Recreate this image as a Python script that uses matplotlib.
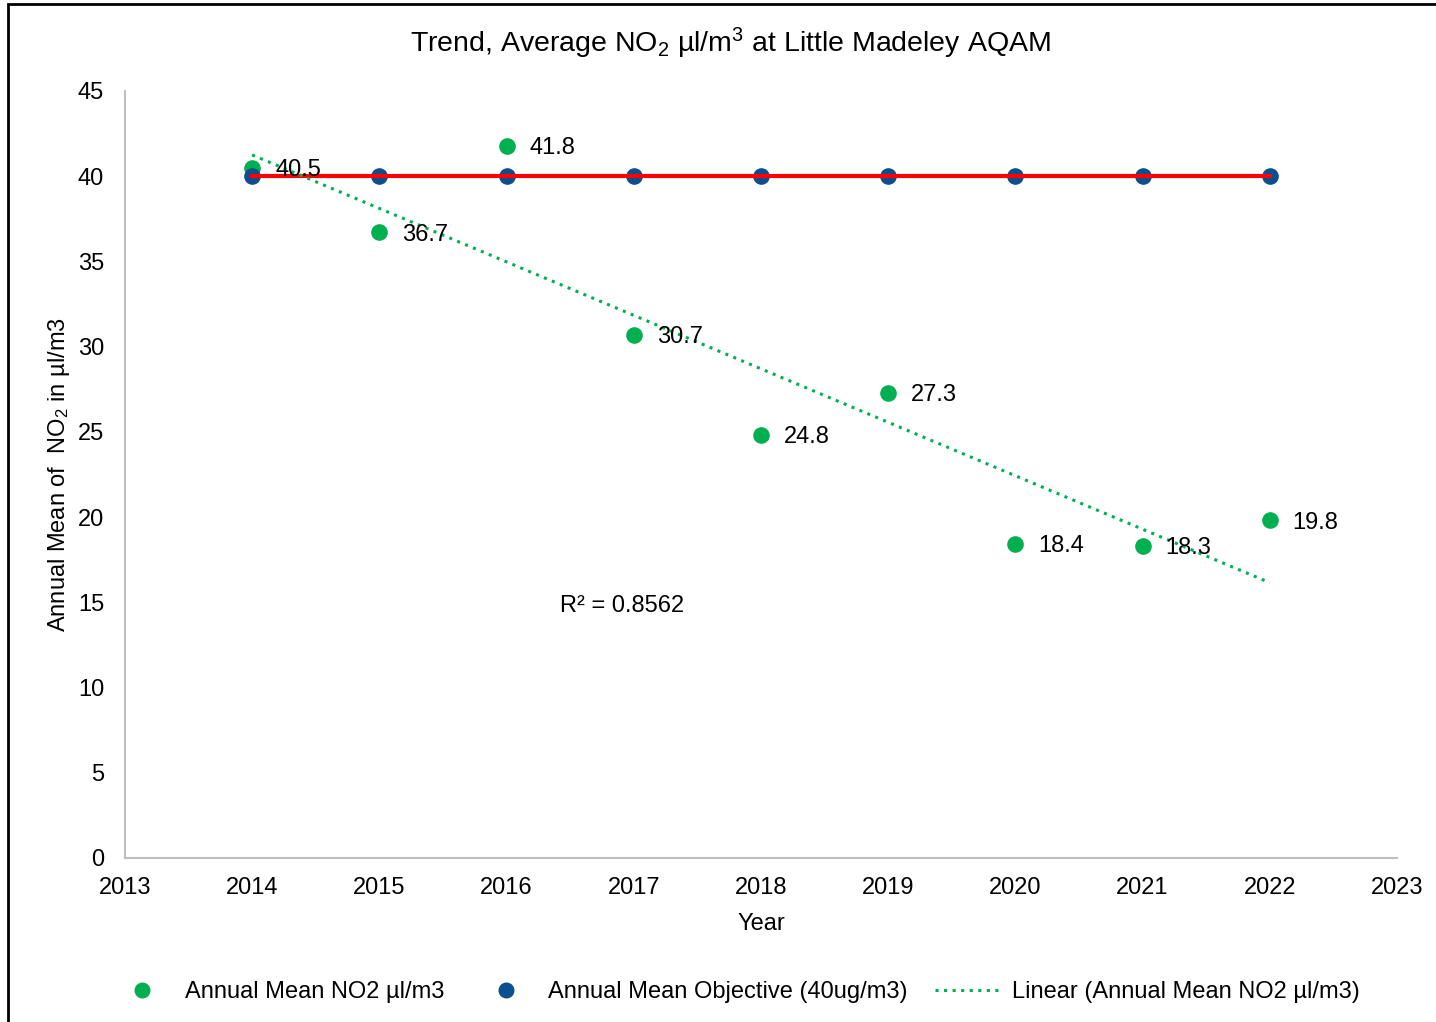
import matplotlib
matplotlib.use("Agg")
import matplotlib.pyplot as plt
import numpy as np
from matplotlib.lines import Line2D
from matplotlib.patches import Rectangle

plt.rcParams['font.family'] = ['Liberation Sans', 'DejaVu Sans']
plt.rcParams['mathtext.fontset'] = 'custom'
plt.rcParams['mathtext.rm'] = 'Liberation Sans'
plt.rcParams['mathtext.default'] = 'regular'

# datos
years = [2014, 2015, 2016, 2017, 2018, 2019, 2020, 2021, 2022]
no2_mean = [40.5, 36.7, 41.8, 30.7, 24.8, 27.3, 18.4, 18.3, 19.8]
objective = [40, 40, 40, 40, 40, 40, 40, 40, 40]
r2_text = "R² = 0.8562"

green = "#00B050"
blue = "#0B4F8F"
fs = 17
dotted = (0, (1, 1.8))

fig = plt.figure(figsize=(14.36, 10.22), dpi=100)
ax = fig.add_axes([0.0870, 0.1605, 0.8858, 0.7505])

# tendencia lineal
coef = np.polyfit(years, no2_mean, 1)
trend = np.polyval(coef, years)

ax.scatter(years, no2_mean, s=120, color=green, zorder=3)
ax.scatter(years, objective, s=120, color=blue, zorder=4)
ax.plot(years, objective, color="#FF0000", lw=3, zorder=5)
ax.plot(years, trend, color=green, lw=2.2, ls=dotted, zorder=6)

for x, y in zip(years, no2_mean):
    ax.annotate(f"{y}", (x, y), xytext=(16.5, -1.5), textcoords="offset points",
                va="center", ha="left", fontsize=fs, zorder=7)

ax.text(2016.42, 14.8, r2_text, fontsize=fs, va="center", ha="left")

ax.set_xlim(2013, 2023)
ax.set_ylim(0, 45)
ax.set_xticks(range(2013, 2024))
ax.set_yticks(range(0, 46, 5))
ax.tick_params(length=0, labelsize=fs)
ax.tick_params(axis='y', pad=15)
ax.tick_params(axis='x', pad=14)
for s in ["top", "right"]:
    ax.spines[s].set_visible(False)
for s in ["left", "bottom"]:
    ax.spines[s].set_color("#BFBFBF")
    ax.spines[s].set_linewidth(1.5)

ax.set_xlabel("Year", fontsize=fs, labelpad=10)
ax.set_ylabel("Annual Mean of  NO$_2$ in µl/m3", fontsize=fs, labelpad=4)
ax.set_title("Trend, Average NO$_2$ µl/m$^3$ at Little Madeley AQAM", fontsize=20.5,
             pad=28, x=0.476)

handles = [
    Line2D([], [], ls="none", marker="o", ms=10.5, color=green),
    Line2D([], [], ls="none", marker="o", ms=10.5, color=blue),
    Line2D([], [], color=green, lw=2.2, ls=dotted),
]
labels = ["Annual Mean NO2 µl/m3", "Annual Mean Objective (40ug/m3)",
          "Linear (Annual Mean NO2 µl/m3)"]
fig.legend(handles, labels, loc="center", bbox_to_anchor=(0.511, 0.029), ncol=3,
           frameon=False, fontsize=fs, handlelength=2.9, handletextpad=0.35,
           columnspacing=1.15)

# borde del grafico
fig.patches.append(Rectangle((0.0056, -0.1), 1.2, 1.096, transform=fig.transFigure,
                             fill=False, edgecolor="black", lw=2))

fig.savefig("out.png", dpi=100)
